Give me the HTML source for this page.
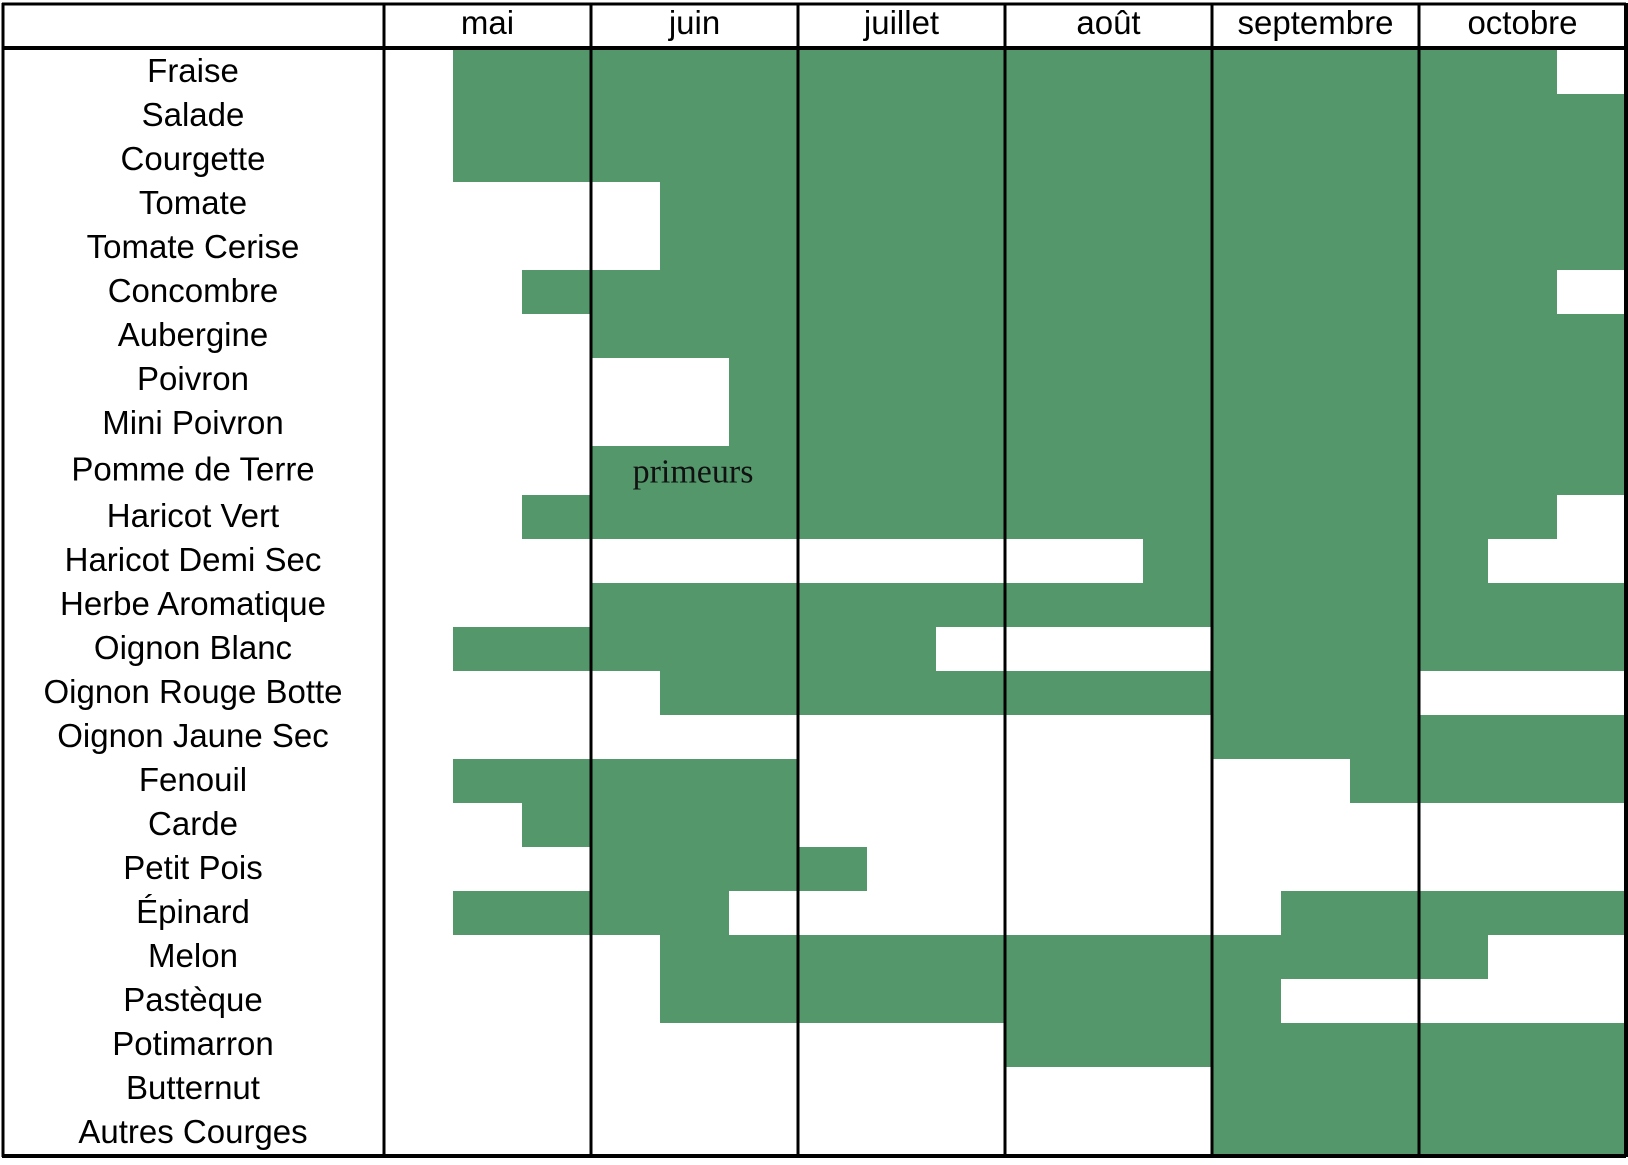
<!DOCTYPE html>
<html><head><meta charset="utf-8"><style>
body{margin:0;background:#fff;width:1628px;height:1160px;overflow:hidden;font-family:"Liberation Sans",sans-serif}
svg text{font-family:"Liberation Sans",sans-serif}
</style></head><body>
<svg id="chart" width="1628" height="1160" xmlns="http://www.w3.org/2000/svg"></svg>
<script>
const months=["mai","juin","juillet","août","septembre","octobre"];
const crops=["Fraise","Salade","Courgette","Tomate","Tomate Cerise","Concombre","Aubergine","Poivron","Mini Poivron","Pomme de Terre","Haricot Vert","Haricot Demi Sec","Herbe Aromatique","Oignon Blanc","Oignon Rouge Botte","Oignon Jaune Sec","Fenouil","Carde","Petit Pois","Épinard","Melon","Pastèque","Potimarron","Butternut","Autres Courges"];
// segments in thirds of months (0..18): [start,end]
const seasons=[
[[1,17]],[[1,18]],[[1,18]],[[4,18]],[[4,18]],[[2,17]],[[3,18]],[[5,18]],[[5,18]],[[3,18]],
[[2,17]],[[11,16]],[[3,18]],[[1,8],[12,18]],[[4,15]],[[12,18]],[[1,6],[14,18]],[[2,6]],[[3,7]],
[[1,5],[13,18]],[[4,16]],[[4,13]],[[9,18]],[[12,18]],[[12,18]]];
const notes=[{row:9,text:"primeurs"}];

const svg=document.getElementById('chart');
const NS="http://www.w3.org/2000/svg";
const x0=384,colW=207,topY=50,rowH=44,tallH=49,tallRow=9;
function x(t){return x0+t*colW/3;}
function rowY(i){return topY+i*rowH+(i>tallRow?tallH-rowH:0);}
function rowHt(i){return i===tallRow?tallH:rowH;}
function mk(tag,attrs){const e=document.createElementNS(NS,tag);for(const k in attrs)e.setAttribute(k,attrs[k]);svg.appendChild(e);return e;}

seasons.forEach((segs,i)=>{segs.forEach((s,j)=>{
 const r=mk('rect',{x:x(s[0]),y:rowY(i),width:x(s[1])-x(s[0]),height:rowHt(i),fill:'#54976b'});
 
 
});});
crops.forEach((c,i)=>{
 const t=mk('text',{x:193,y:rowY(i)+rowHt(i)/2+10,'text-anchor':'middle','font-size':33,fill:'#000'});
 t.textContent=c;
 
 
});
notes.forEach(n=>{
 const t=mk('text',{x:693,y:rowY(n.row)+rowHt(n.row)/2+12,'text-anchor':'middle','font-size':34,fill:'#111','style':'font-family:"Liberation Serif",serif'});
 t.textContent=n.text;
 
 
});
months.forEach((m,i)=>{
 const t=mk('text',{x:x(i*3)+colW/2,y:34,'text-anchor':'middle','font-size':33,fill:'#000'});
 t.textContent=m;
 
 
});
for(let i=0;i<=6;i++){
 const l=mk('line',{x1:x(i*3),y1:3,x2:x(i*3),y2:1157,stroke:'#000','stroke-width':i===6?4:3});
 
 
}
const frame=[[2,4,1626,4,3],[2,48,1626,48,4],[2,1156,1626,1156,4],[3,3,3,1157,3]];
frame.forEach(f=>{
 const l=mk('line',{x1:f[0],y1:f[1],x2:f[2],y2:f[3],stroke:'#000','stroke-width':f[4]});
 
 
});
</script>
</body></html>
